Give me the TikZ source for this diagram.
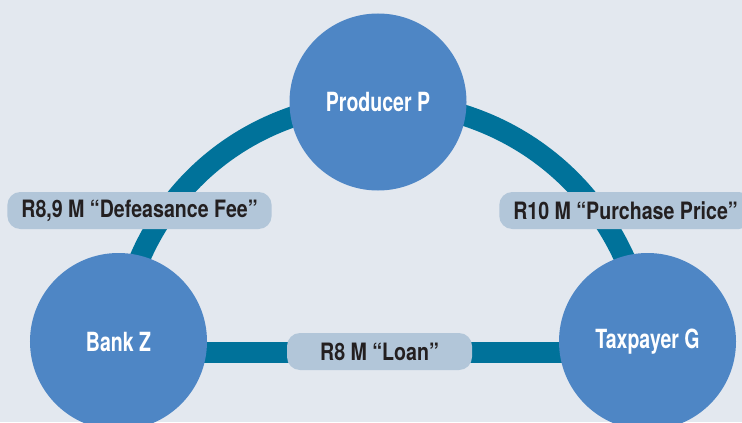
\documentclass[tikz,border=0pt]{standalone}
\usepackage{fontspec}
\setmainfont{TeX Gyre Heros}
\newfontfamily\condfont[FakeStretch=0.82]{TeX Gyre Heros}
\newfontfamily\namefont[FakeStretch=0.74]{TeX Gyre Heros}
\usetikzlibrary{backgrounds}

\definecolor{paper}{HTML}{E3E8EF}
\definecolor{disc}{HTML}{4E86C5}
\definecolor{ring}{HTML}{00729A}
\definecolor{tag}{HTML}{B2C6D9}
\definecolor{ink}{HTML}{231F20}

\begin{document}
\begin{tikzpicture}[x=1bp,y=1bp]
  \tikzstyle{party}=[circle,fill=disc,minimum size=177bp,inner sep=0pt,text=white,font=\namefont\bfseries\fontsize{26.5}{30}\selectfont]
  \tikzstyle{amount}=[rounded corners=13bp,fill=tag,text=ink,minimum height=37bp,inner xsep=14bp,font=\condfont\bfseries\fontsize{24}{28}\selectfont]
  \tikzstyle{flow}=[draw=ring,line width=21bp]
  \useasboundingbox (0,0) rectangle (742,422);
  \node[party] (prod) at (378,320) {Producer P};
  \node[party] (bank) at (118.5,80.5) {Bank Z};
  \node[party] (tax) at (647.5,80.5) {Taxpayer G};
  \begin{scope}[on background layer]
    \fill[paper] (0,0) rectangle (742,422);
    \draw[flow] (bank.center) to[bend left=41.6] (prod.center) to[bend left=41.6] (tax.center);
    \draw[flow] ([yshift=-11bp]bank.center) -- ([yshift=-11bp]tax.center);
  \end{scope}
  \node[amount] (fee) at (139.5,211.5) {R8,9 M “Defeasance Fee”};
  \node[amount] (price) at (625.5,211.5) {R10 M “Purchase Price”};
  \node[amount,minimum width=185bp] (loan) at (379.5,70.5) {R8 M “Loan”};
\end{tikzpicture}
\end{document}
